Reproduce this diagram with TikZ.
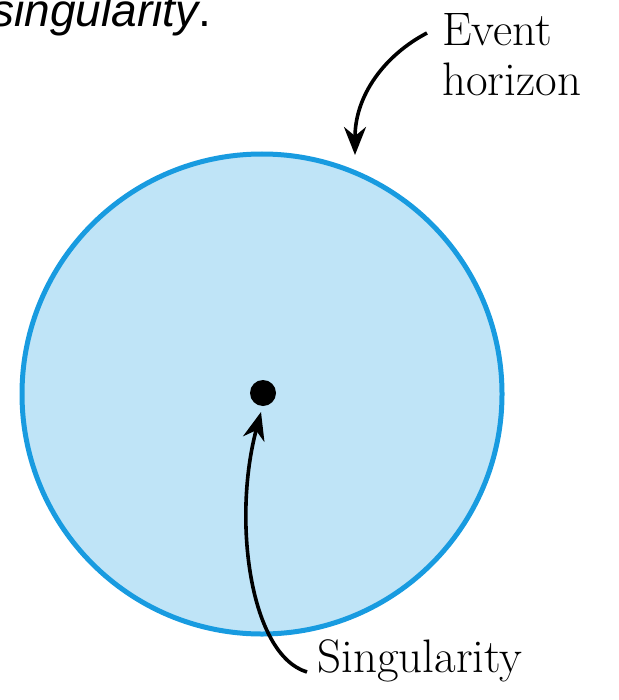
\documentclass[tikz,border=0pt]{standalone}
\usepackage{fontspec}
\newfontfamily\captionfont{Liberation Sans}
\usetikzlibrary{arrows.meta}

\definecolor{horizonfill}{RGB}{191,228,247}
\definecolor{horizonline}{RGB}{24,155,224}

\begin{document}
\begin{tikzpicture}[
    x=0.5pt, y=-0.5pt,
    label/.style={font=\fontsize{23.5}{25}\selectfont, align=left, inner sep=0pt},
    pointer/.style={-{Stealth[length=14pt, width=11pt, inset=4.5pt]}, line width=1.8pt},
]
\useasboundingbox (0,0) rectangle (619,700);

% Caption fragment
\node[anchor=base west, inner sep=0pt, font=\captionfont\fontsize{23}{25}\selectfont]
    (caption) at (-9,27) {\textit{singularity}.};

% Black hole
\draw[fill=horizonfill, draw=horizonline, line width=2.5pt] (262,394) circle (240);
\fill (263,393) circle (13) coordinate (dot);
\coordinate (rim) at (355,155);
\coordinate (dotbase) at (261,412);

% Labels
\node[label, anchor=north west] (event) at (442,13) {Event\\horizon};
\node[label, anchor=base west] (sing) at (317,672) {Singularity};
\coordinate (eventtail) at ([shift={(-7.5pt,-10pt)}]event.north west);
\coordinate (singtail) at ([xshift=-5pt]sing.base west);

% Arrows
\draw[pointer] (eventtail) .. controls (385,55) and (355,95) .. (rim);
\draw[pointer] (singtail) .. controls (250,655) and (232,520) .. (dotbase);

\end{tikzpicture}
\end{document}
